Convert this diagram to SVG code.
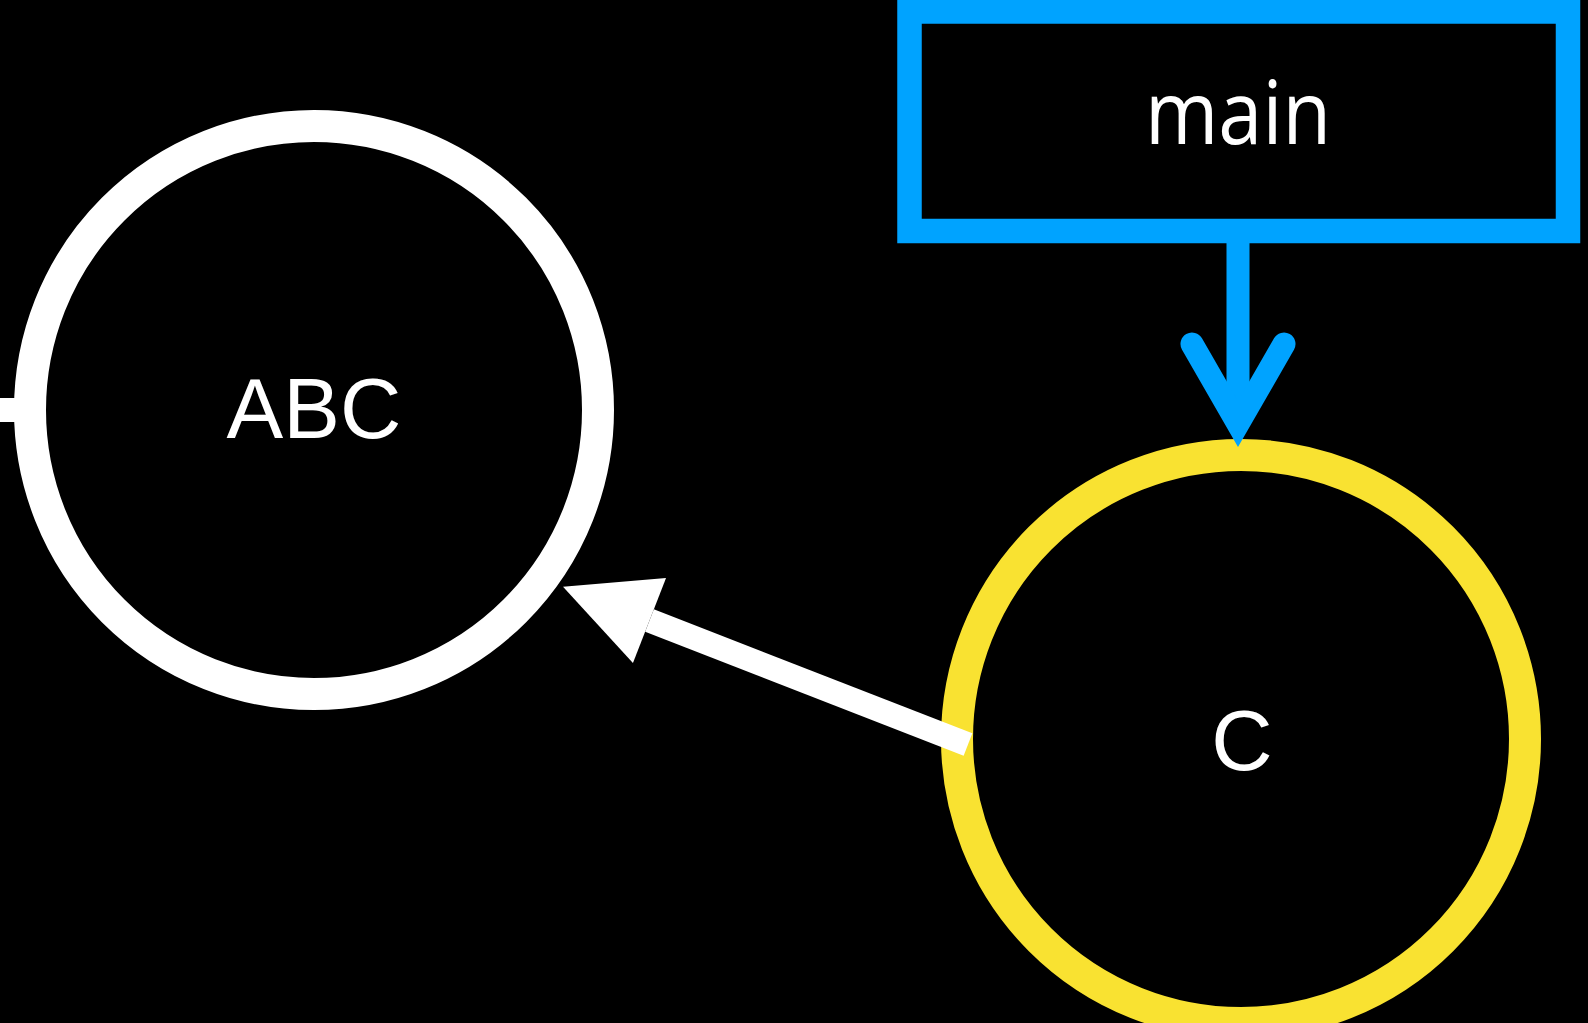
<svg xmlns="http://www.w3.org/2000/svg" width="1588" height="1023" viewBox="0 0 1588 1023">
<style>
.bg{fill:#000}
.ring{fill:#000;stroke-width:32}
.lbl{fill:#fff;text-anchor:middle}
.sans{font-family:"Liberation Sans",Arial,sans-serif;font-size:85px}
.open{font-family:"Open Sans","Noto Sans",sans-serif;font-size:88px}
.wline{fill:none;stroke:#fff;stroke-width:24;stroke-linecap:butt}
.bline{fill:none;stroke:#00A3FF;stroke-width:23;stroke-linecap:butt}
</style>
<defs>
<marker id="wtri" markerUnits="userSpaceOnUse" orient="auto" refX="0" refY="0" markerWidth="200" markerHeight="200" viewBox="-100 -100 200 200" overflow="visible">
<path d="M0,-45.6 L92.8,0 L0,45.6 Z" fill="#fff"/>
</marker>
<marker id="bvee" markerUnits="userSpaceOnUse" orient="auto" refX="0" refY="0" markerWidth="200" markerHeight="200" viewBox="-100 -100 200 200" overflow="visible">
<path d="M-80,-46 L0,0 L-80,46" fill="none" stroke="#00A3FF" stroke-width="23" stroke-linecap="round" stroke-linejoin="miter" stroke-miterlimit="10"/>
</marker>
</defs>
<rect class="bg" x="0" y="0" width="1588" height="1023"/>
<g id="node-ABC">
<circle class="ring" cx="314" cy="410" r="284" stroke="#fff"/>
<text class="lbl sans" x="314" y="438">ABC</text>
</g>
<g id="node-C">
<circle class="ring" cx="1241" cy="739" r="284" stroke="#F9E231"/>
<text class="lbl sans" x="1242" y="770">C</text>
</g>
<g id="node-main">
<rect x="909.5" y="11.5" width="658.5" height="219.5" fill="#000" stroke="#00A3FF" stroke-width="24.5"/>
<text class="lbl open" x="1238" y="144" textLength="186" lengthAdjust="spacingAndGlyphs">main</text>
</g>
<g id="connectors">
<line class="wline" x1="-10" y1="410" x2="22" y2="410"/>
<path class="wline" d="M968,744.5 L649.5,620.5" marker-end="url(#wtri)"/>
<path class="bline" d="M1238,243 L1238,424" marker-end="url(#bvee)"/>
</g>
</svg>
